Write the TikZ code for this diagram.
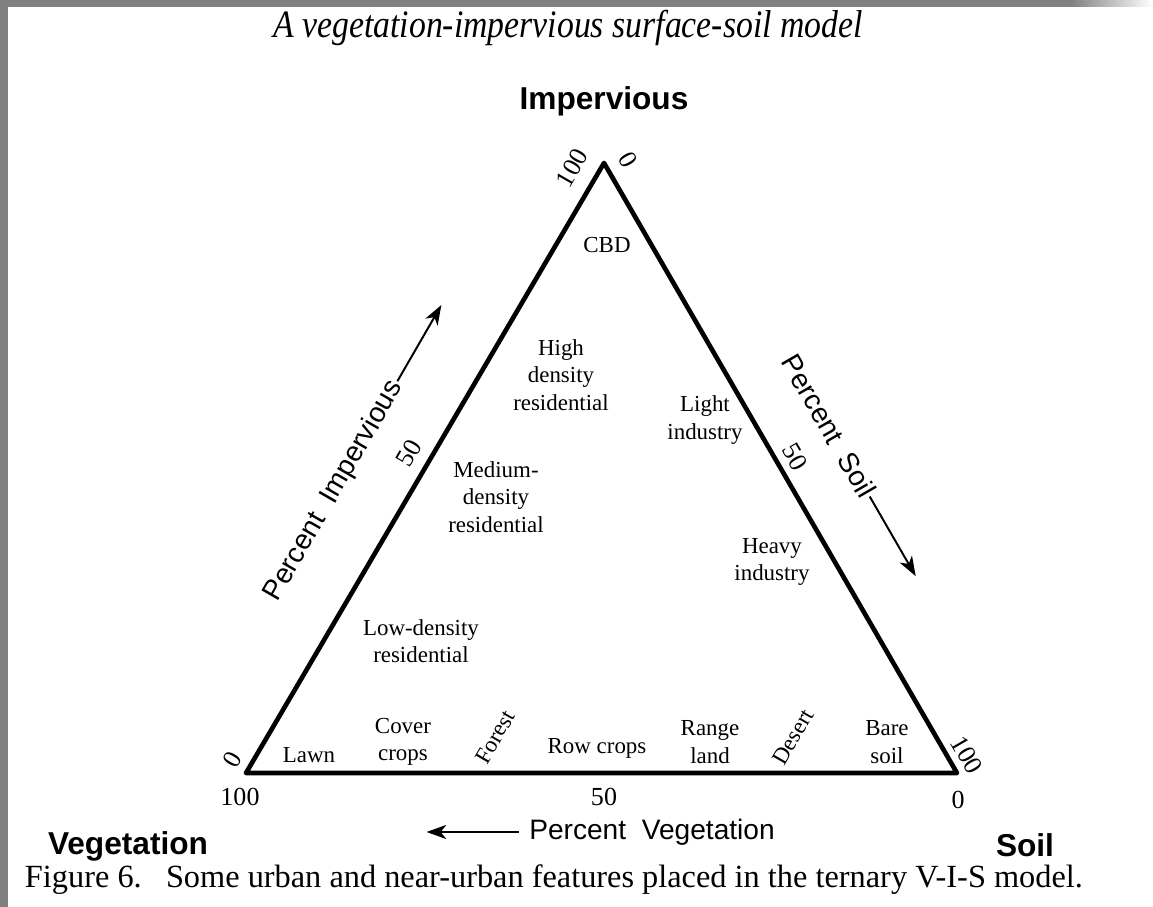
\documentclass[tikz,border=0pt]{standalone}
\usepackage{fontspec}
\setmainfont{Liberation Serif}
\setsansfont{Liberation Sans}
\usepackage{tkz-euclide}
\usetikzlibrary{arrows.meta}

\tikzset{
  region/.style={font=\fontsize{16.3}{19.6}\selectfont, align=center, inner sep=0pt},
  tick/.style={font=\fontsize{18.5}{20}\selectfont, inner sep=0pt},
  corner/.style={font=\sffamily\bfseries\fontsize{22.5}{26}\selectfont, inner sep=0pt},
  axis/.style={font=\sffamily\fontsize{20}{24}\selectfont, inner sep=1pt},
  axisarrow/.style={line width=1.4pt, -{Stealth[length=14pt,width=10pt,inset=4pt]}},
}

\begin{document}
\begin{tikzpicture}[x=0.025cm, y=0.025cm]
    \useasboundingbox (0,0) rectangle (1153,907);

    % scan border
    \fill[black!50] (0,0) rectangle (8,907);
    \fill[black!50] (0,900) rectangle (1070,907);
    \shade[left color=black!50, right color=white] (1070,900) rectangle (1153,907);

    \node[anchor=base, yscale=1.15, font=\itshape\fontsize{24}{28}\selectfont] (title) at (568,869)
        {A vegetation-impervious surface-soil model};

    % triangle
    \tkzDefPoints{246/134/V, 957/134/S, 604/744/I}
    \tkzDrawPolygon[line width=3.3pt](V,S,I)

    % corners
    \node[corner, anchor=base] (imp) at (604,797) {Impervious};
    \node[corner, anchor=base] (veg) at (128,52) {Vegetation};
    \node[corner, anchor=base] (soil) at (1025,50) {Soil};

    % scale values
    \node[tick] (b100) at (240,110) {100};
    \node[tick] (b50) at (604,110) {50};
    \node[tick] (b0) at (958,107) {0};
    \node[tick, rotate=60] (l0) at (232,147) {0};
    \node[tick, rotate=60] (l50) at (409,454) {50};
    \node[tick, rotate=60] (l100) at (572,739) {100};
    \node[tick, rotate=-60] (r0) at (628,747) {0};
    \node[tick, rotate=-60] (r50) at (795,450) {50};
    \node[tick, rotate=-60] (r100) at (967,152) {100};

    % axis titles
    \node[axis, rotate=60] (pimp) at (334,416) {Percent~ Impervious};
    \draw[axisarrow] (pimp.east) -- ++(60:88);
    \node[axis, rotate=-60] (psoil) at (829,481) {Percent~ Soil};
    \draw[axisarrow] (psoil.east) -- ++(-60:92);
    \node[axis] (pveg) at (652,75) {Percent~ Vegetation};
    \draw[axisarrow] (pveg.west) ++(-9,0) -- ++(-92,0);

    % features
    \node[region] (cbd) at (607,662) {CBD};
    \node[region] (hdr) at (561,532) {High\\density\\residential};
    \node[region] (lind) at (705,487) {Light\\industry};
    \node[region] (mdr) at (496,410) {Medium-\\density\\residential};
    \node[region] (hind) at (772,345) {Heavy\\industry};
    \node[region] (ldr) at (421,266) {Low-density\\residential};
    \node[region] (lawn) at (309,152) {Lawn};
    \node[region] (cover) at (403,165) {Cover\\crops};
    \node[region, rotate=60] (forest) at (495,170) {Forest};
    \node[region] (row) at (597,159) {Row crops};
    \node[region] (range) at (710,165) {Range\\land};
    \node[region, rotate=60] (desert) at (793,170) {Desert};
    \node[region] (bare) at (887,165) {Bare\\soil};

    \node[anchor=base west, font=\fontsize{23}{26}\selectfont] (caption) at (20,19)
        {Figure 6.~~~Some urban and near-urban features placed in the ternary V-I-S model.};
\end{tikzpicture}
\end{document}
